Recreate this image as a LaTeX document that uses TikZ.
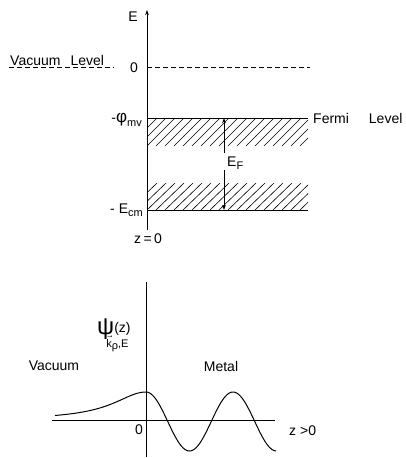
\documentclass[tikz,border=0pt]{standalone}
\usepackage{fontspec}
\setmainfont{Liberation Sans}
\usetikzlibrary{arrows.meta,positioning}
\newcommand{\lsub}[2][3.5pt]{\raisebox{-#1}{\fontsize{11}{12}\selectfont #2}}
\tikzset{
lbl/.style={font=\fontsize{14}{16}\selectfont, inner sep=1pt},
axis/.style={line width=1pt},
lvl/.style={line width=1pt},
hatch/.style={line width=0.6pt},
dsh/.style={line width=0.7pt, dash pattern=on 5pt off 3pt},
wave/.style={line width=1pt, smooth},
arr/.style={-{Stealth[length=1.8mm, width=1.3mm]}, line width=0.7pt}
}
\begin{document}
\begin{tikzpicture}[x=1pt, y=-1pt]
\useasboundingbox (0,0) rectangle (405,458);
% energy diagram
\coordinate (ebot) at (147,230);
\coordinate (etop) at (147,10);
\draw[axis, arr] (ebot) -- (etop);
\node[lbl] (elab) at (133,17) {E};
\node[lbl] (zero) at (134,68) {0};
\node[lbl, anchor=base west] (vac) at (9,65) {Vacuum\hspace{10pt}Level};
\coordinate (vacend) at ([xshift=8pt]vac.south east);
\draw[dsh] ([yshift=-1pt]vac.south west) -- ([yshift=-1pt]vacend);
\coordinate (vac0) at (147,67);
\coordinate (vac1) at (310,67);
\draw[dsh] (vac0) -- (vac1);
% bands
\foreach \t/\b in {118/146, 183/210} {
\begin{scope}
\clip (147,\t) rectangle (308,\b);
\foreach \i in {-4,...,18}
\draw[hatch] (147+9*\i,\b) -- ++(28,\t-\b);
\end{scope}
}
\coordinate (fl0) at (147,118);
\coordinate (fl1) at (308,118);
\coordinate (cb0) at (147,210);
\coordinate (cb1) at (308,210);
\draw[lvl] (fl0) -- (fl1);
\draw[lvl] (cb0) -- (cb1);
\node[lbl, anchor=west] (fermi) at (312,118) {Fermi\hspace{20pt}Level};
\node[lbl, anchor=east] (phi) at (143,120) {-{\fontsize{17}{17}\selectfont φ}\lsub{mv}};
\node[lbl, anchor=east] (ecm) at (144,210) {- E\lsub{cm}};
\node[lbl] (zeq) at (148,239) {z\,=\,0};
\node[lbl, anchor=west] (ef) at (226,163) {E\lsub[3pt]{F}};
\coordinate (efa) at (224,153);
\coordinate (efb) at (224,170);
\coordinate (efat) at (224,118);
\coordinate (efbt) at (224,210);
\draw[arr] (efa) -- (efat);
\draw[arr] (efb) -- (efbt);
% wave function
\coordinate (psibot) at (146,457);
\coordinate (psitop) at (146,282);
\coordinate (zl) at (52,420);
\coordinate (zr) at (275,420);
\draw[axis] (psibot) -- (psitop);
\draw[axis] (zl) -- (zr);
\node[lbl, anchor=west] (psi) at (96,335) {{\fontsize{24}{24}\selectfont ψ}\kern-8pt\rlap{\raisebox{-13pt}{\fontsize{11}{12}\selectfont $\vec{\mbox{k}}$\lsub[2pt]{ρ},E}}\kern8pt\raisebox{2pt}{(z)}};
\node[lbl] (vacuum) at (54,366) {Vacuum};
\node[lbl] (metal) at (221,366) {Metal};
\node[lbl] (origin) at (139,430) {0};
\node[lbl, anchor=west] (zpos) at (288,431) {z >0};
\draw[wave, samples=60, domain=55:146]
plot (\x,{420-28/(1+((\x-146)/40)^2)});
\draw[wave, samples=120, domain=146:276]
plot (\x,{421.5-29.5*cos(4.138*(\x-146))});
\end{tikzpicture}
\end{document}
